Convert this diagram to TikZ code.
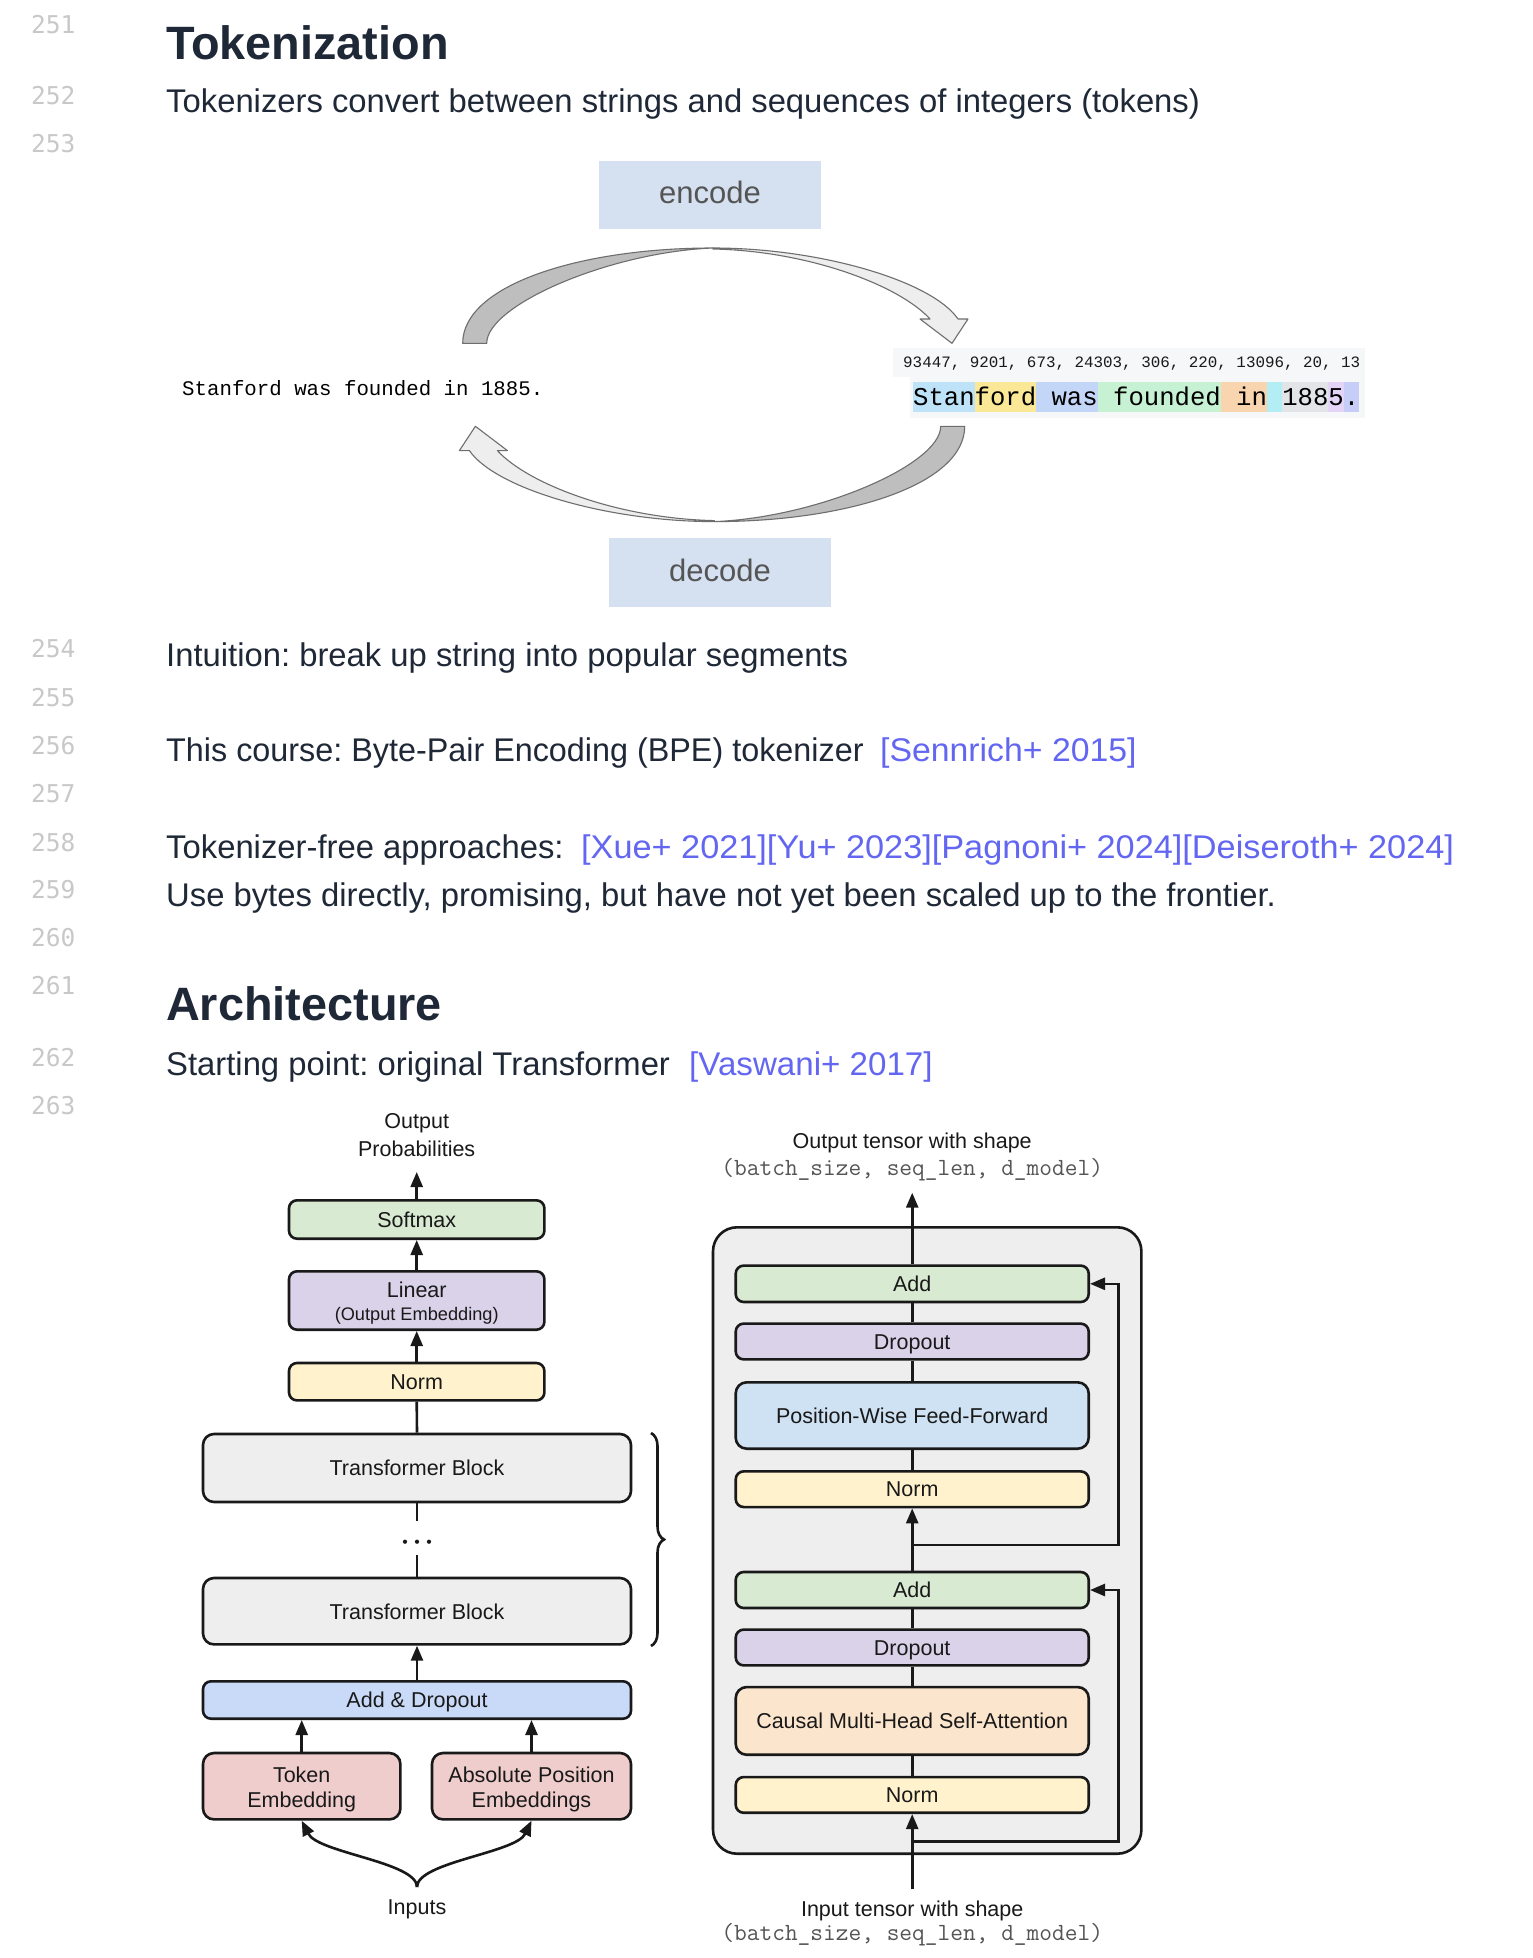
\documentclass[tikz,border=0pt]{standalone}
\usepackage{fontspec}
\setmainfont{Liberation Sans}
\newfontfamily\lmono{Liberation Mono}
\newfontfamily\lnmono{DejaVu Sans Mono}
\newfontfamily\linkfont[FakeStretch=1.03]{Liberation Sans}
\newfontfamily\linkwide[FakeStretch=1.045]{Liberation Sans}
\newfontfamily\linknarrow[FakeStretch=1.01]{Liberation Sans}
\newfontfamily\bodynarrow[FakeStretch=0.986]{Liberation Sans}
\usetikzlibrary{arrows.meta,decorations.pathreplacing}
\newcommand\myfs[1]{\fontsize{#1pt}{#1pt}\selectfont}
\frenchspacing
\definecolor{txt}{RGB}{31,40,55}
\definecolor{lnum}{RGB}{200,200,200}
\definecolor{linkc}{RGB}{99,102,241}
\definecolor{encbg}{RGB}{213,225,240}
\definecolor{enctx}{RGB}{85,85,85}
\definecolor{tokbg}{RGB}{246,247,248}
\definecolor{tkA}{RGB}{190,227,248}
\definecolor{tkB}{RGB}{250,232,150}
\definecolor{tkC}{RGB}{196,214,248}
\definecolor{tkD}{RGB}{198,241,210}
\definecolor{tkE}{RGB}{248,212,175}
\definecolor{tkF}{RGB}{180,238,245}
\definecolor{tkG}{RGB}{227,228,232}
\definecolor{tkH}{RGB}{228,212,248}
\definecolor{tkI}{RGB}{198,206,248}
\definecolor{arcdark}{RGB}{190,190,190}
\definecolor{arclight}{RGB}{238,238,238}
\definecolor{arcline}{RGB}{110,110,110}
\definecolor{cGreen}{HTML}{D9EAD3}
\definecolor{cPurple}{HTML}{D9D2E9}
\definecolor{cYellow}{HTML}{FFF2CC}
\definecolor{cBlue}{HTML}{C9DAF8}
\definecolor{cFFN}{HTML}{CFE2F3}
\definecolor{cOrange}{HTML}{FCE5CD}
\definecolor{cRed}{HTML}{EFCDCC}
\definecolor{cGray}{HTML}{EEEEEE}
\definecolor{edge}{RGB}{25,25,25}
\definecolor{shapetx}{RGB}{85,85,85}
\begin{document}
\begin{tikzpicture}[x=1pt,y=-1pt,
  body/.style={inner sep=0, anchor=base west, text=txt, font=\myfs{32.8}},
  linkt/.style={inner sep=0, anchor=base west, text=linkc, font=\linkfont\myfs{32.8}},
  head/.style={inner sep=0, anchor=base west, text=txt, font=\bfseries\myfs{46.8}},
  lno/.style={inner sep=0, anchor=base west, text=lnum, font=\lnmono\myfs{24.5}},
  lab/.style={inner sep=0, anchor=base, text=edge, font=\myfs{21.5}},
  monolab/.style={inner sep=0, anchor=base, text=shapetx, font=\ttfamily\myfs{24.7}},
  abox/.style={draw=edge, line width=2.6pt, rounded corners=8pt, inner sep=0},
  arr/.style={draw=edge, line width=2.6pt, -{Triangle[length=15pt,width=12pt]}},
  plain/.style={draw=edge, line width=2.6pt},
  arcd/.style={fill=arcdark, draw=arcline, line width=1.1pt, line join=round},
  arcl/.style={fill=arclight, draw=arcline, line width=1.1pt, line join=round}
]
\useasboundingbox (0,0) rectangle (1532,1958);
\fill[white] (0,0) rectangle (1532,1958);

% ---------- line numbers ----------
\node[lno] (n251) at (31,34) {251};
\node[lno] (n252) at (31,105) {252};
\node[lno] (n253) at (31,152.6) {253};
\node[lno] (n254) at (31,657) {254};
\node[lno] (n255) at (31,706) {255};
\node[lno] (n256) at (31,754) {256};
\node[lno] (n257) at (31,802) {257};
\node[lno] (n258) at (31,851) {258};
\node[lno] (n259) at (31,898) {259};
\node[lno] (n260) at (31,946) {260};
\node[lno] (n261) at (31,994) {261};
\node[lno] (n262) at (31,1066) {262};
\node[lno] (n263) at (31,1114) {263};

% ---------- text ----------
\node[head] (h1) at (166,60) {Tokenization};
\node[body] (t252) at (166,113) {Tokenizers convert between strings and sequences of integers (tokens)};
\node[body] (t254) at (166,666) {Intuition: break up string into popular segments};
\node[body, font=\bodynarrow\myfs{32.8}] (t256) at (166,761) {This course: Byte-Pair Encoding (BPE) tokenizer};
\node[linkt] (l256) at (880,761) {[Sennrich+ 2015]};
\node[body] (t258) at (166,858) {Tokenizer-free approaches:};
\node[linkt, font=\linkwide\myfs{32.8}] (l258) at (581,858) {[Xue+ 2021][Yu+ 2023][Pagnoni+ 2024][Deiseroth+ 2024]};
\node[body] (t259) at (166,906) {Use bytes directly, promising, but have not yet been scaled up to the frontier.};
\node[head] (h2) at (166,1020) {Architecture};
\node[body] (t262) at (166,1075) {Starting point: original Transformer};
\node[linkt, font=\linknarrow\myfs{32.8}] (l262) at (689,1075) {[Vaswani+ 2017]};

% ---------- encode / decode ----------
\fill[encbg] (599,161) rectangle (821,229.5);
\node[inner sep=0, anchor=base, text=enctx, font=\myfs{31}] (enc) at (710,204) {encode};
\fill[encbg] (609,538) rectangle (831,607);
\node[inner sep=0, anchor=base, text=enctx, font=\myfs{31}] (dec) at (720,581.5) {decode};

\node[inner sep=0, anchor=base west, text=black, font=\lmono\myfs{20.75}] (src) at (182,395) {Stanford was founded in 1885.};

% token panel
\fill[tokbg] (893,348) rectangle (1365,377);
\fill[tokbg] (910,377) rectangle (1365,418);
\node[inner sep=0, anchor=base west, text=black!90, font=\lmono\myfs{15.87}] (ids) at (903,367) {93447, 9201, 673, 24303, 306, 220, 13096, 20, 13};
\fill[tkA] (913,382.3) rectangle (974.5,411.7);
\fill[tkB] (974.5,382.3) rectangle (1036,411.7);
\fill[tkC] (1036,382.3) rectangle (1097.5,411.7);
\fill[tkD] (1097.5,382.3) rectangle (1220.5,411.7);
\fill[tkE] (1220.5,382.3) rectangle (1266.6,411.7);
\fill[tkF] (1266.6,382.3) rectangle (1282,411.7);
\fill[tkG] (1282,382.3) rectangle (1328.1,411.7);
\fill[tkH] (1328.1,382.3) rectangle (1343.5,411.7);
\fill[tkI] (1343.5,382.3) rectangle (1358.9,411.7);
\node[inner sep=0, anchor=base west, text=black, font=\lmono\myfs{25.63}] (toks) at (913,405) {Stanford was founded in 1885.};

% curved arrows
\begin{scope}
  \path[arcd] (462.7,343.3) .. controls (462.7,285) and (580,248) .. (713,248)
     .. controls (610,252) and (486.7,305) .. (486.7,343.3) -- cycle;
  \path[arcl] (713,248) .. controls (820,248) and (932,281) .. (958,319)
     -- (968,319) -- (952,343.3) -- (920,319) -- (930,319)
     .. controls (900,286) and (810,251) .. (713,249) -- cycle;
\end{scope}
\begin{scope}[rotate around={180:(713.7,384.8)}]
  \path[arcd] (462.7,343.3) .. controls (462.7,285) and (580,248) .. (713,248)
     .. controls (610,252) and (486.7,305) .. (486.7,343.3) -- cycle;
  \path[arcl] (713,248) .. controls (820,248) and (932,281) .. (958,319)
     -- (968,319) -- (952,343.3) -- (920,319) -- (930,319)
     .. controls (900,286) and (810,251) .. (713,249) -- cycle;
\end{scope}

% ---------- left architecture ----------
\node[lab] (op1) at (416.7,1128.5) {Output};
\node[lab] (op2) at (416.7,1156.5) {Probabilities};
\coordinate (optip) at (416.7,1172);

\node[abox, fill=cGreen, minimum width=255.4pt, minimum height=38.4pt] (softmax) at (416.7,1219.5) {};
\node[lab] (softmaxT) at (416.7,1227.2) {Softmax};
\node[abox, fill=cPurple, minimum width=255.4pt, minimum height=58.4pt] (linear) at (416.7,1300.5) {};
\node[lab] (linearT) at (416.7,1297.7) {Linear};
\node[lab, font=\myfs{18.2}] (linearT2) at (416.7,1320.5) {(Output Embedding)};
\node[abox, fill=cYellow, minimum width=255.4pt, minimum height=37.4pt] (normL) at (416.7,1381.7) {};
\node[lab] (normLT) at (416.7,1389.4) {Norm};
\node[abox, rounded corners=11pt, fill=cGray, minimum width=428pt, minimum height=68pt] (tb1) at (417,1468) {};
\node[lab] (tb1T) at (417,1475.7) {Transformer Block};
\node[abox, rounded corners=11pt, fill=cGray, minimum width=428pt, minimum height=66.4pt] (tb2) at (417,1611.2) {};
\node[lab] (tb2T) at (417,1619.2) {Transformer Block};
\node[abox, fill=cBlue, minimum width=428pt, minimum height=37.4pt] (addL) at (417,1700) {};
\node[lab] (addLT) at (417,1707.7) {Add \& Dropout};
\node[abox, rounded corners=11pt, fill=cRed, minimum width=197.4pt, minimum height=66.4pt] (tokemb) at (301.7,1786.2) {};
\node[lab] (tokembT1) at (301.7,1782.2) {Token};
\node[lab] (tokembT2) at (301.7,1807.4) {Embedding};
\node[abox, rounded corners=11pt, fill=cRed, minimum width=199pt, minimum height=66.4pt] (posemb) at (531.5,1786.2) {};
\node[lab] (posembT1) at (531.5,1782.2) {Absolute Position};
\node[lab] (posembT2) at (531.5,1807.4) {Embeddings};
\node[lab] (inputs) at (417,1914.5) {Inputs};

\draw[arr] (softmax.north) -- (optip);
\draw[arr] (linear.north) -- (softmax.south);
\draw[arr] (normL.north) -- (linear.south);
\draw[plain] (tb1.north) -- (normL.south);
\coordinate (d1) at (417,1520.7);
\coordinate (d2) at (417,1555);
\draw[plain] (tb1.south) -- (d1);
\draw[plain] (d2) -- (tb2.north);
\fill[edge] (405,1541.7) circle (2.1);
\fill[edge] (417,1541.7) circle (2.1);
\fill[edge] (429,1541.7) circle (2.1);
\draw[arr] (addL.north) -- (tb2.south);
\draw[arr] (tokemb.north) -- (tokemb.north |- addL.south);
\draw[arr] (posemb.north) -- (posemb.north |- addL.south);
\coordinate (inj) at (417,1887);
\draw[arr] (inj) .. controls (417,1862) and (318,1853) .. (tokemb.south);
\draw[arr] (inj) .. controls (417,1862) and (516,1853) .. (posemb.south);
\coordinate (brA) at (651,1433);
\coordinate (brB) at (651,1646);
\draw[draw=edge, line width=2.6pt, decorate, decoration={brace, amplitude=13pt}] (brA) -- (brB);

% ---------- right architecture ----------
\node[lab] (ot1) at (912.2,1148.5) {Output tensor with shape};
\node[monolab] (ot2) at (912.2,1175) {(batch\_size, seq\_len, d\_model)};
\coordinate (ottip) at (912.2,1192.7);
\draw[draw=edge, line width=2.6pt, fill=cGray, rounded corners=24pt] (713,1227.3) rectangle (1141.4,1853.7);

\node[abox, fill=cGreen, minimum width=353pt, minimum height=36.4pt] (add1) at (912.2,1283.8) {};
\node[lab] (add1T) at (912.2,1291.5) {Add};
\node[abox, fill=cPurple, minimum width=353pt, minimum height=35.8pt] (drop1) at (912.2,1341.5) {};
\node[lab] (drop1T) at (912.2,1349.2) {Dropout};
\node[abox, rounded corners=11pt, fill=cFFN, minimum width=353pt, minimum height=66.4pt] (ffn) at (912.2,1415.5) {};
\node[lab] (ffnT) at (912.2,1423.2) {Position-Wise Feed-Forward};
\node[abox, fill=cYellow, minimum width=353pt, minimum height=35.7pt] (norm1) at (912.2,1489.2) {};
\node[lab] (norm1T) at (912.2,1496.9) {Norm};
\node[abox, fill=cGreen, minimum width=353pt, minimum height=36pt] (add2) at (912.2,1590) {};
\node[lab] (add2T) at (912.2,1597.7) {Add};
\node[abox, fill=cPurple, minimum width=353pt, minimum height=35.8pt] (drop2) at (912.2,1647.5) {};
\node[lab] (drop2T) at (912.2,1655.2) {Dropout};
\node[abox, rounded corners=11pt, fill=cOrange, minimum width=353pt, minimum height=67.7pt] (attn) at (912.2,1720.9) {};
\node[lab] (attnT) at (912.2,1728.6) {Causal Multi-Head Self-Attention};
\node[abox, fill=cYellow, minimum width=353pt, minimum height=35.7pt] (norm2) at (912.2,1794.9) {};
\node[lab] (norm2T) at (912.2,1802.6) {Norm};

\node[lab] (it1) at (912.2,1916) {Input tensor with shape};
\node[monolab] (it2) at (912.2,1940) {(batch\_size, seq\_len, d\_model)};

\draw[arr] (add1.north) -- (ottip);
\draw[plain] (drop1.north) -- (add1.south);
\draw[plain] (ffn.north) -- (drop1.south);
\draw[plain] (norm1.north) -- (ffn.south);
\coordinate (j1) at (912.2,1545);
\coordinate (r1) at (1118.3,1545);
\draw[plain] (add2.north) -- (j1);
\draw[arr] (j1) -- (norm1.south);
\draw[arr] (j1) -- (r1) |- (add1.east);
\draw[plain] (drop2.north) -- (add2.south);
\draw[plain] (attn.north) -- (drop2.south);
\draw[plain] (norm2.north) -- (attn.south);
\coordinate (inb) at (912.2,1889.3);
\coordinate (j2) at (912.2,1841.7);
\coordinate (r2) at (1118.3,1841.7);
\draw[arr] (inb) -- (norm2.south);
\draw[arr] (j2) -- (r2) |- (add2.east);
\end{tikzpicture}
\end{document}
